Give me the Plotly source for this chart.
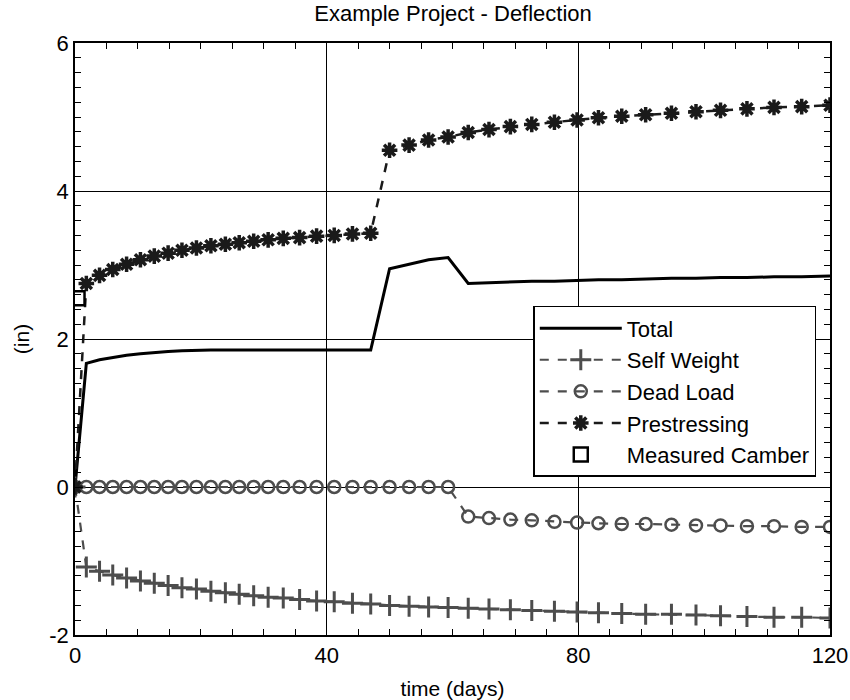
import plotly.graph_objects as go

# Time steps (days) shared by all deflection components
time_days = [0, 1.8, 3.9, 6.0, 8.2, 10.4, 12.6, 14.8, 17.0, 19.3, 21.6, 23.9, 26.1, 28.4,
             30.7, 33.1, 35.7, 38.4, 41.2, 44.1, 47.0, 50.0, 53.1, 56.2, 59.3, 62.5,
             65.8, 69.2, 72.6, 76.2, 79.8, 83.2, 86.9, 90.7, 94.8, 98.7, 102.6, 106.8,
             111.1, 115.5, 120.0]

# Deflections (in)
total = [0, 1.67, 1.72, 1.75, 1.78, 1.80, 1.82, 1.83, 1.84, 1.85, 1.85, 1.85, 1.85, 1.85,
         1.85, 1.86, 1.85, 1.85, 1.85, 1.85, 1.85, 2.95, 3.01, 3.07, 3.10, 2.75,
         2.76, 2.77, 2.78, 2.78, 2.79, 2.80, 2.80, 2.81, 2.82, 2.82, 2.83, 2.83,
         2.84, 2.84, 2.85]

self_weight = [0, -1.08, -1.14, -1.19, -1.23, -1.27, -1.30, -1.33, -1.36, -1.38, -1.41,
               -1.43, -1.45, -1.47, -1.49, -1.50, -1.52, -1.54, -1.55, -1.57, -1.58,
               -1.60, -1.61, -1.62, -1.63, -1.64, -1.65, -1.66, -1.67, -1.68, -1.69,
               -1.70, -1.71, -1.72, -1.72, -1.73, -1.74, -1.75, -1.76, -1.76, -1.77]

dead_load = [0, 0, 0, 0, 0, 0, 0, 0, 0, 0, 0, 0, 0, 0, 0, 0, 0, 0, 0, 0, 0, 0, 0, 0, 0,
             -0.40, -0.42, -0.44, -0.45, -0.47, -0.48, -0.49, -0.50, -0.50, -0.51,
             -0.52, -0.52, -0.53, -0.53, -0.54, -0.54]

prestressing = [0, 2.75, 2.86, 2.94, 3.01, 3.07, 3.12, 3.16, 3.20, 3.23, 3.26, 3.28, 3.30,
                3.32, 3.34, 3.36, 3.37, 3.39, 3.40, 3.42, 3.43, 4.55, 4.62, 4.69, 4.73,
                4.79, 4.83, 4.87, 4.90, 4.93, 4.96, 4.99, 5.01, 5.03, 5.05, 5.07, 5.09,
                5.11, 5.13, 5.14, 5.16]

camber_time = [0.4]
camber_value = [2.55]

# Axis tick positions and labels (plain hyphen for negatives)
x_tick_vals = [0, 40, 80, 120]
x_tick_text = ["0", "40", "80", "120"]
y_tick_vals = [-2, 0, 2, 4, 6]
y_tick_text = ["-2", "0", "2", "4", "6"]

FONT = "Liberation Sans, Arial, sans-serif"

fig = go.Figure()

fig.add_trace(go.Scatter(
    x=time_days, y=total, name="Total", mode="lines",
    line=dict(color="black", width=3)))

fig.add_trace(go.Scatter(
    x=time_days, y=self_weight, name="Self Weight", mode="lines+markers",
    line=dict(color="#4d4d4d", width=2.2, dash="dash"),
    marker=dict(symbol="cross-thin", size=15, line=dict(color="#4d4d4d", width=3))))

fig.add_trace(go.Scatter(
    x=time_days, y=dead_load, name="Dead Load", mode="lines+markers",
    line=dict(color="#4d4d4d", width=2.2, dash="dash"),
    marker=dict(symbol="circle-open", size=12, color="#4d4d4d",
                line=dict(color="#4d4d4d", width=2.5))))

fig.add_trace(go.Scatter(
    x=time_days, y=prestressing, name="Prestressing", mode="lines+markers",
    line=dict(color="#1a1a1a", width=2.5, dash="dash"),
    marker=dict(symbol="asterisk-open", size=13, color="#1a1a1a",
                line=dict(color="#1a1a1a", width=3.5))))

fig.add_trace(go.Scatter(
    x=camber_time, y=camber_value, name="Measured Camber", mode="markers",
    marker=dict(symbol="square-open", size=14, color="black",
                line=dict(color="black", width=2.5))))

axis_common = dict(
    showline=True, linecolor="black", linewidth=1.5, mirror="allticks",
    ticks="inside", ticklen=8, tickcolor="black", tickwidth=1,
    showgrid=True, gridcolor="black", gridwidth=1, zeroline=False,
    tickfont=dict(family=FONT, size=22, color="black"),
    tickmode="array", automargin=False,
)

fig.update_xaxes(
    range=[0, 120], tickvals=x_tick_vals, ticktext=x_tick_text,
    minor=dict(ticks="inside", tick0=0, dtick=5, ticklen=6, tickcolor="black", showgrid=False),
    title=dict(text="time (days)", font=dict(family=FONT, size=21, color="black"), standoff=14),
    **axis_common)

fig.update_yaxes(
    range=[-2, 6], tickvals=y_tick_vals, ticktext=y_tick_text,
    minor=dict(ticks="inside", tick0=0, dtick=0.2, ticklen=6, tickcolor="black", showgrid=False),
    title=dict(text="(in)", font=dict(family=FONT, size=21, color="black"), standoff=14),
    **axis_common)

fig.update_layout(
    width=850, height=700,
    margin=dict(l=75, r=20, t=43, b=65),
    paper_bgcolor="white", plot_bgcolor="white",
    font=dict(family=FONT, color="black"),
    title=dict(text="Example Project - Deflection", x=0.533, xanchor="center",
               y=0.981, yanchor="middle", yref="container",
               font=dict(family=FONT, size=22, color="black")),
    showlegend=True,
    legend=dict(x=0.607, y=0.556, xanchor="left", yanchor="top",
                bgcolor="white", bordercolor="black", borderwidth=1.5,
                font=dict(family=FONT, size=22, color="black"),
                itemwidth=82, tracegroupgap=0),
)

fig.write_html("out.html")
